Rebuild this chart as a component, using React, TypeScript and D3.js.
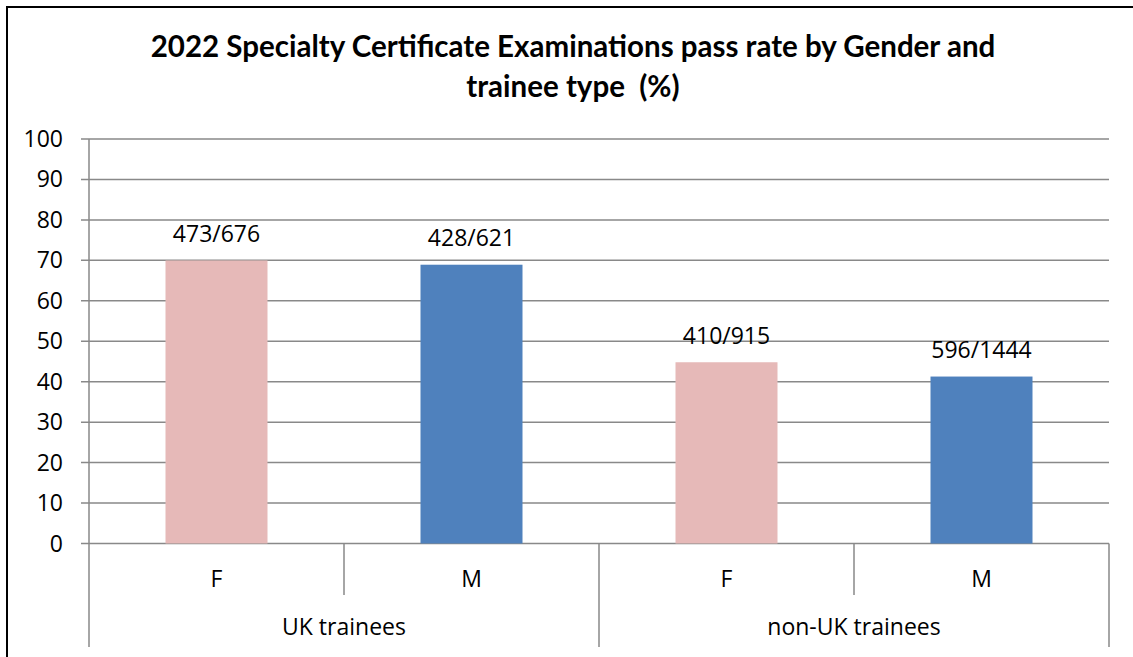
import React from 'react';
import {scaleBand, scaleLinear, range} from 'd3';

// 2022 SCE pass rate by gender / trainee type
const groups = ['UK trainees', 'non-UK trainees'];
const genders = ['F', 'M'];
const passed = [473, 428, 410, 596];
const sat = [676, 621, 915, 1444];
const yTicks = [0, 10, 20, 30, 40, 50, 60, 70, 80, 90, 100];
const titleLines = ['2022 Specialty Certificate Examinations pass rate by Gender and', 'trainee type  (%)'];

const pink = '#E6B9B8';
const blue = '#4F81BD';
const grid = '#898989';
const font = '"Open Sans", sans-serif';
const titleFont = 'Lato, sans-serif';
const fs = 23;

const W = 1133;
const H = 657;
const left = 89, right = 1109, top = 139, bottom = 543.5;

const App = () => {
    const cats = range(passed.length); // F,M,F,M
    const rates = cats.map(i => (passed[i] / sat[i]) * 100);

    const x = scaleBand<number>()
        .domain(cats)
        .range([left, right])
        .paddingInner(0.6)
        .paddingOuter(0.3);
    const step = x.step();
    const catLeft = (i: number) => left + i * step; // band edges without padding

    const y = scaleLinear().domain([0, 100]).range([bottom, top]);

    return (
        <svg width={W} height={H} style={{position: 'absolute', left: 0, top: 0, background: '#fff'}} fontFamily={font}>
            <rect x={7} y={7} width={W + 20} height={H + 20} fill="#fff" stroke="#000" strokeWidth={2}/>

            {titleLines.map((t, i) => (
                <text key={t} x={573} y={57 + i * 40} textAnchor="middle" fontSize={29.5} fontWeight="bold"
                      fontFamily={titleFont} style={{whiteSpace: 'pre'}}>{t}</text>
            ))}

            {/* gridlines + y ticks */}
            {yTicks.map(v => (
                <g key={v}>
                    <line x1={left - 8} x2={right} y1={y(v)} y2={y(v)} stroke={grid} strokeWidth={1.5}/>
                    <text x={63} y={y(v) + 8} textAnchor="end" fontSize={fs}>{v}</text>
                </g>
            ))}
            <line x1={left} x2={left} y1={top} y2={bottom} stroke={grid} strokeWidth={1.5}/>

            {/* bars */}
            {cats.map(i => (
                <rect key={i} x={x(i)} y={y(rates[i])} width={x.bandwidth()} height={bottom - y(rates[i])}
                      fill={genders[i % 2] === 'F' ? pink : blue}/>
            ))}

            {/* data labels */}
            {cats.map(i => (
                <text key={'l' + i} x={x(i)! + x.bandwidth() / 2} y={y(rates[i]) - 18.5} textAnchor="middle" fontSize={fs}>
                    {passed[i]}/{sat[i]}
                </text>
            ))}

            {/* category axis: inner ticks */}
            {cats.map(i => i % 2 === 1 ? (
                <line key={'t' + i} x1={catLeft(i)} x2={catLeft(i)} y1={bottom} y2={595} stroke={grid} strokeWidth={1.5}/>
            ) : null)}
            {range(groups.length + 1).map(g => (
                <line key={'g' + g} x1={catLeft(g * 2)} x2={catLeft(g * 2)} y1={bottom} y2={647} stroke={grid} strokeWidth={1.5}/>
            ))}
            {cats.map(i => (
                <text key={'c' + i} x={x(i)! + x.bandwidth() / 2} y={587} textAnchor="middle" fontSize={fs}>{genders[i % 2]}</text>
            ))}
            {groups.map((g, k) => (
                <text key={g} x={catLeft(k * 2) + step} y={635} textAnchor="middle" fontSize={fs}>{g}</text>
            ))}
        </svg>
    );
};

export default App;
